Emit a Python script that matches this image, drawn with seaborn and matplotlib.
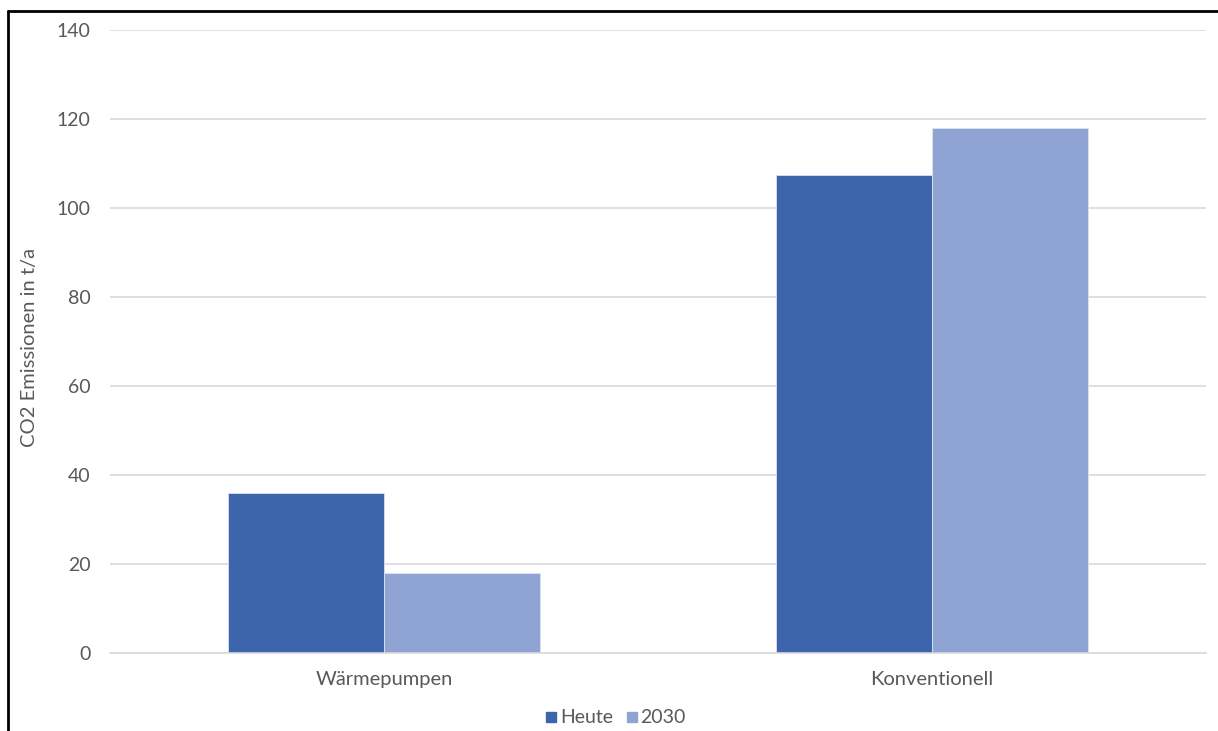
import matplotlib
matplotlib.use("Agg")
import matplotlib.pyplot as plt
import seaborn as sns
import pandas as pd
from matplotlib.lines import Line2D

# data
categories = ["Wärmepumpen", "Konventionell"]
series = ["Heute", "2030"]
heute = [36, 107.5]
jahr_2030 = [18, 118]
yticks = [0, 20, 40, 60, 80, 100, 120, 140]

colors = {"Heute": "#3D65AB", "2030": "#90A4D4"}
grey = "#595959"

df = pd.DataFrame({
    "Kategorie": categories * 2,
    "Serie": [series[0]] * 2 + [series[1]] * 2,
    "Wert": heute + jahr_2030,
})

sns.set_theme(style="white")
plt.rcParams["font.family"] = ["Lato", "DejaVu Sans"]

fig = plt.figure(figsize=(12.18, 7.31), dpi=100)
ax = fig.add_axes([0.0903, 0.1067, 0.8998, 0.8523])

sns.barplot(data=df, x="Kategorie", y="Wert", hue="Serie", order=categories,
            hue_order=series, palette=colors, saturation=1, width=0.57, gap=0,
            edgecolor="#DCE3F2", linewidth=0.6, ax=ax, legend=False)

ax.set_xlim(-0.5, 1.5)
ax.set_ylim(0, 140)
ax.set_yticks(yticks)
ax.yaxis.grid(True, color="#D9D9D9", linewidth=1.2)
ax.set_axisbelow(True)
for s in ["top", "right", "left"]:
    ax.spines[s].set_visible(False)
ax.spines["bottom"].set_color("#D9D9D9")
ax.spines["bottom"].set_linewidth(1.2)

ax.tick_params(axis="y", length=0, pad=14, labelsize=14, labelcolor=grey)
ax.tick_params(axis="x", length=0, pad=13, labelsize=14.5, labelcolor=grey)
ax.set_xlabel("")
ax.set_ylabel("CO2 Emissionen in t/a", fontsize=14.5, color=grey)
ax.yaxis.set_label_coords(-0.066, 0.49)

handles = [Line2D([], [], marker="s", linestyle="", markersize=7,
                  markerfacecolor=colors[s], markeredgecolor=colors[s]) for s in series]
fig.legend(handles, series, loc="center", bbox_to_anchor=(0.505, 0.018), ncol=2,
           frameon=False, fontsize=14, labelcolor=grey, handletextpad=0.1,
           columnspacing=0.6, handlelength=0.7)

# black frame along the top and left edge of the screenshot
fig.add_artist(Line2D([0.0066, 0.0066], [0, 0.985], color="black", linewidth=2,
                      transform=fig.transFigure))
fig.add_artist(Line2D([0.0066, 1.0], [0.985, 0.985], color="black", linewidth=2,
                      transform=fig.transFigure))

fig.savefig("out.png", dpi=100, facecolor="white")
